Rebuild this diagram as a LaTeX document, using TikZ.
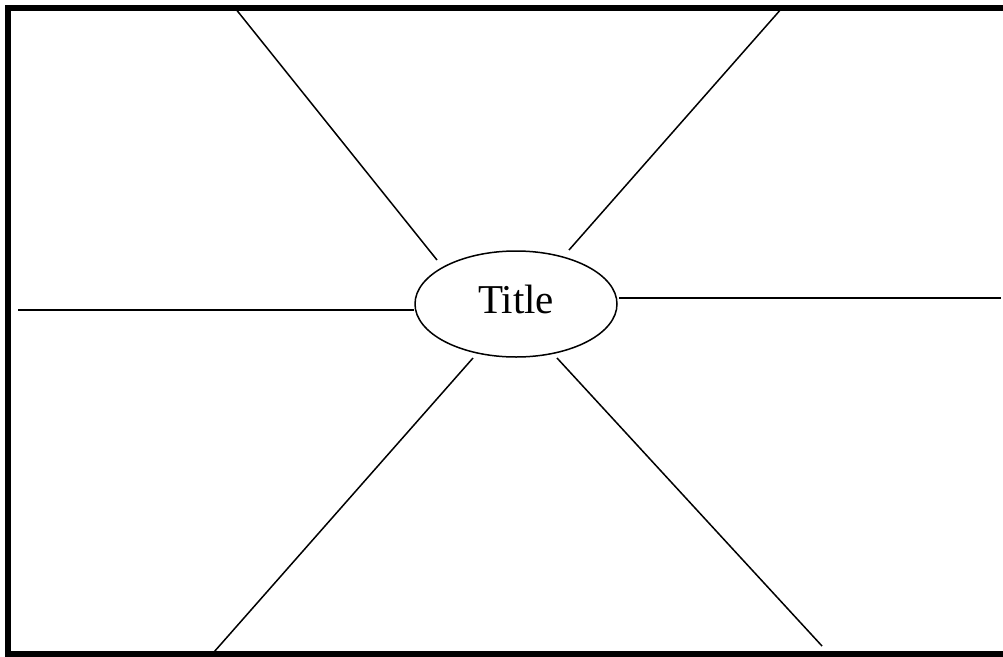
\documentclass[tikz,border=0pt]{standalone}
\usepackage{fontspec}
\setmainfont{Liberation Serif}
\usetikzlibrary{shapes.geometric}

\begin{document}
\begin{tikzpicture}[x=1pt,y=-1pt,
  spoke/.style={line width=1.5pt},
  hub/.style={draw,ellipse,line width=1.5pt,minimum width=202pt,minimum height=106pt,inner sep=0pt,
    font=\fontsize{41}{48}\selectfont,text height=28pt,text depth=10pt}]
\useasboundingbox (0,0) rectangle (1003,656);
\clip (0,0) rectangle (1003,656);
% open frame: top, left and bottom edges
\coordinate (ftr) at (1003,8);
\coordinate (ftl) at (8,8);
\coordinate (fbl) at (8,654);
\coordinate (fbr) at (1003,654);
\draw[line width=6pt] (ftr) -- (ftl) -- (fbl) -- (fbr);
\node[hub] (title) at (516,304) {Title};
% spoke ends
\coordinate (ulout) at (235,8);
\coordinate (ulin) at (437,260);
\coordinate (urout) at (782,8);
\coordinate (urin) at (569,250);
\coordinate (lout) at (18,310);
\coordinate (lin) at (414,310);
\coordinate (rin) at (619,298);
\coordinate (rout) at (1001,298);
\coordinate (llin) at (473,358);
\coordinate (llout) at (214,652);
\coordinate (lrin) at (557,358);
\coordinate (lrout) at (822,646);
\draw[spoke] (ulout) -- (ulin);
\draw[spoke] (urout) -- (urin);
\draw[spoke] (lout) -- (lin);
\draw[spoke] (rin) -- (rout);
\draw[spoke] (llin) -- (llout);
\draw[spoke] (lrin) -- (lrout);
\end{tikzpicture}
\end{document}
